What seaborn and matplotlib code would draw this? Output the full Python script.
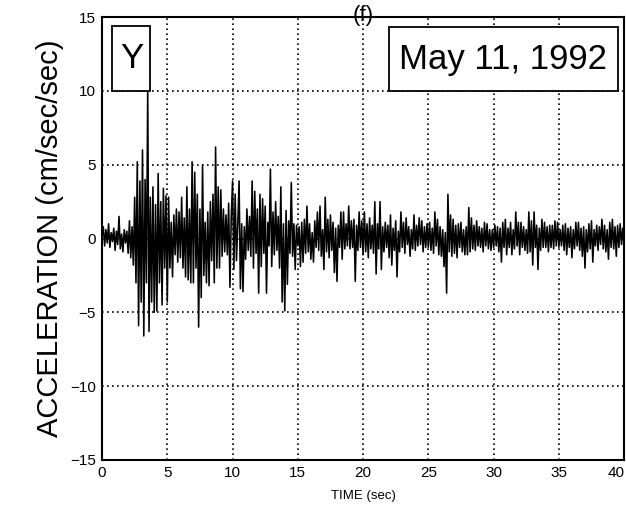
import numpy as np
import pandas as pd
import matplotlib
matplotlib.use("Agg")
import matplotlib.pyplot as plt
from matplotlib.patches import Rectangle
import matplotlib.transforms as mtransforms
import seaborn as sns

SAMPLE_STEP = 0.1
ACC = [
    0.2, 0.8, -0.5, 0.6, -0.3, 1.0, -0.6, 0.4, -0.2, 0.7,
    -0.8, 0.5, -0.4, 1.5, -0.7, 0.3, -0.9, 0.6, -0.3, 0.5,
    -1.0, 1.2, -1.3, 0.8, -1.8, 2.8, -3.0, 5.2, -5.9, 3.9,
    -4.3, 6.0, -6.6, 4.0, -3.0, 10.2, -6.3, 2.8, -4.3, 3.5,
    -5.0, 2.3, -4.9, 4.4, -3.0, 2.5, -4.5, 3.4, -2.0, 2.9,
    -4.3, 2.8, -2.0, 1.1, -2.6, 1.6, -1.1, 2.0, -1.6, 1.8,
    -1.3, 2.8, -2.0, 1.4, -2.6, 3.5, -2.8, 2.0, -3.0, 5.2,
    -3.0, 4.5, -2.0, 3.0, -6.0, 2.0, -4.0, 5.0, -2.5, 1.1,
    -3.0, 1.8, -3.2, 2.5, -1.5, 3.0, -3.0, 6.2, -2.0, 3.5,
    -2.0, 3.3, -1.2, 2.0, -0.9, 1.6, -1.1, 2.4, -3.3, 1.5,
    3.9, -2.1, 3.0, -1.5, 1.0, 3.9, -3.4, 1.0, -3.6, 0.8,
    -1.4, 2.0, -0.8, 1.5, -1.2, 3.9, -2.0, 3.2, -1.0, 2.0,
    -3.7, 3.0, -1.9, 2.7, -1.0, 2.2, -3.7, 1.1, -0.5, 4.7,
    -1.9, 1.8, -1.1, 2.5, -0.8, 1.5, -2.0, 3.5, -4.3, 1.0,
    -4.9, 1.9, -3.1, 1.2, -1.0, 3.8, -1.2, 1.0, -2.1, 0.9,
    -0.5, 0.8, -1.9, 1.1, -1.6, 1.3, -1.0, 2.2, -0.9, 1.0,
    -1.4, 0.4, -1.6, 1.2, -0.6, 1.8, -0.8, 2.2, -1.2, 0.6,
    -2.1, 2.8, -0.9, 1.3, -1.3, 1.6, -0.8, 1.1, -2.3, 0.7,
    -2.9, 0.9, -0.6, 1.8, -1.4, 1.8, -0.7, 1.0, -0.5, 2.2,
    -0.7, 1.2, -0.6, 1.3, -2.9, 0.9, -0.8, 1.8, -0.6, 1.2,
    -1.1, 1.8, -0.9, 1.0, -1.3, 1.4, -0.7, 0.9, -1.0, 2.5,
    -2.4, 1.0, -0.7, 2.5, -2.1, 0.8, -0.9, 1.1, -0.6, 0.9,
    -1.3, 1.6, -1.8, 0.7, -0.8, 1.2, -2.6, 0.5, -0.9, 1.8,
    -0.6, 1.1, -1.0, 1.4, -0.4, 0.8, -1.2, 0.6, -0.7, 1.6,
    -0.8, 0.9, -0.5, 1.4, -0.4, 1.2, -0.9, 0.8, -0.6, 1.0,
    -0.6, 1.1, -0.8, 0.7, -1.0, 1.8, -0.5, 1.3, -1.1, 0.8,
    -1.2, 0.6, -1.9, 0.4, -3.7, 3.0, -0.9, 1.6, -1.2, 1.3,
    -1.0, 0.9, -1.3, 1.0, -0.6, 1.1, -0.9, 0.6, -1.1, 0.8,
    -1.1, 2.1, -0.9, 1.4, -0.7, 0.9, -0.8, 1.2, -0.5, 0.8,
    -0.6, 0.7, -0.9, 1.1, -0.5, 1.0, -0.7, 0.6, -0.8, 0.6,
    -0.6, 0.9, -0.5, 0.8, -0.9, 0.7, -1.6, 1.1, -0.6, 1.3,
    -1.1, 0.7, -0.6, 1.1, -1.1, 0.6, -0.7, 1.8, -0.5, 1.1,
    -1.1, 1.1, -0.6, 0.8, -0.8, 0.6, -1.0, 1.8, -0.9, 1.2,
    -1.8, 1.8, -0.6, 0.9, -2.1, 0.7, -0.8, 1.3, -0.6, 1.1,
    -0.6, 0.8, -0.9, 0.9, -0.6, 0.9, -0.7, 1.2, -0.5, 1.1,
    -0.6, 0.6, -0.5, 0.9, -0.8, 1.0, -1.1, 0.7, -0.6, 0.8,
    -1.3, 0.6, -0.7, 1.1, -0.5, 1.1, -0.8, 0.7, -1.2, 0.8,
    -2.0, 0.6, -0.9, 1.0, -0.7, 1.2, -1.6, 0.6, -0.5, 0.9,
    -0.8, 0.8, -0.4, 1.3, -0.7, 0.9, -0.9, 0.6, -1.4, 1.1,
    -0.6, 1.3, -0.7, 0.8, -1.2, 0.9, -0.6, 1.0, -0.4, 0.7, -0.3,
]
TIME = np.round(np.arange(len(ACC)) * SAMPLE_STEP, 2)

X_TICKS = [0, 5, 10, 15, 20, 25, 30, 35, 40]
Y_TICKS = [-15, -10, -5, 0, 5, 10, 15]
TITLE = "(f)"
X_LABEL = "TIME (sec)"
Y_LABEL = "ACCELERATION (cm/sec/sec)"
COMPONENT = "Y"
DATE = "May 11, 1992"

# ---- plotting ----
sns.set_theme(style="white")
plt.rcParams["font.family"] = ["Liberation Sans", "DejaVu Sans"]
plt.rcParams["text.color"] = "black"
plt.rcParams["axes.labelcolor"] = "black"

fig = plt.figure(figsize=(6.26, 5.12), dpi=100)
ax = fig.add_axes([0.163, 0.1016, 0.834, 0.865])

df = pd.DataFrame({"time": TIME, "acc": ACC})
sns.lineplot(data=df, x="time", y="acc", color="black", linewidth=1.15,
             estimator=None, sort=False, ax=ax, zorder=3)

ax.set_xlim(0, 40)
ax.set_ylim(-15, 15)
ax.set_xticks(X_TICKS)
ax.set_yticks(Y_TICKS)
ax.grid(True, color="black", linestyle=(0, (1, 2)), linewidth=1.2)
ax.set_axisbelow(True)
ax.tick_params(direction="inout", length=7, width=1, labelsize=11,
               colors="black", pad=1)
for s in ax.spines.values():
    s.set_color("black")
    s.set_linewidth(1.5)

# keep the last x tick label inside the figure
fig.canvas.draw()
last = ax.get_xticklabels()[-1]
last.set_transform(last.get_transform() +
                   mtransforms.ScaledTranslation(-8 / 100, 0, fig.dpi_scale_trans))

ax.set_title(TITLE, fontsize=16, pad=-3, y=1.0, color="black")
ax.set_xlabel(X_LABEL, fontsize=9.5, labelpad=7)
ax.set_ylabel(Y_LABEL, fontsize=21, labelpad=4)

# annotation boxes
ax.add_patch(Rectangle((0.8, 10.0), 2.9, 4.4, facecolor="white",
                       edgecolor="black", linewidth=1.3, zorder=5))
ax.text(2.25, 12.2, COMPONENT, fontsize=25, ha="center", va="center",
        color="black", zorder=6)
ax.add_patch(Rectangle((22.0, 10.0), 17.5, 4.3, facecolor="white",
                       edgecolor="black", linewidth=1.3, zorder=5))
ax.text(30.75, 12.15, DATE, fontsize=25, ha="center", va="center",
        color="black", zorder=6)

fig.savefig("out.png", dpi=100)
